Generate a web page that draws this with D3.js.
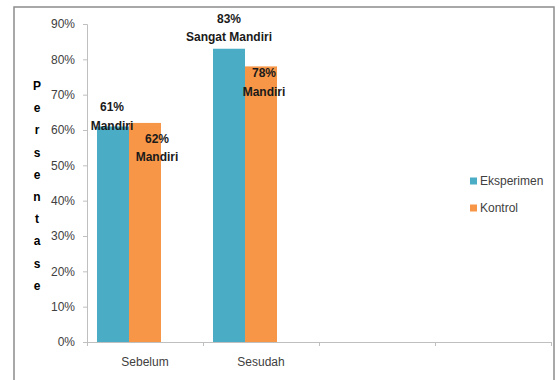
<!DOCTYPE html>
<html>
<head>
<meta charset="utf-8">
<script src="https://cdn.jsdelivr.net/npm/d3@7"></script>
<style>
  html, body { margin: 0; padding: 0; background: #fff; }
  svg { display: block; font-family: "Liberation Sans", Arial, sans-serif; }
</style>
</head>
<body>
<svg id="chart" width="559" height="380"></svg>
<script>
// Chart data
const categories = ["Sebelum", "Sesudah", "", ""];
const seriesNames = ["Eksperimen", "Kontrol"];
const eksperimen = [0.61, 0.83];
const kontrol = [0.62, 0.78];
const labelNames = [["Mandiri", "Mandiri"], ["Sangat Mandiri", "Mandiri"]];
const yTicks = [0, 0.1, 0.2, 0.3, 0.4, 0.5, 0.6, 0.7, 0.8, 0.9];
const axisTitle = "Persentase";

// Layout
const colors = ["#4BACC6", "#F79646"];
const plot = { left: 87, right: 551, top: 24, bottom: 342 };
// label offsets relative to the top-centre of each bar [dx, dy of first line]
const labelOffsets = [[[-1, -19], [12, 16]], [[0, -30], [3, 7]]];

const svg = d3.select("#chart");

// outer frame
svg.append("rect")
  .attr("x", 14).attr("y", 7).attr("width", 540).attr("height", 400)
  .attr("fill", "none").attr("stroke", "#8c8c8c").attr("stroke-width", 1.5);

const y = d3.scaleLinear().domain([0, 0.9]).range([plot.bottom, plot.top]);
const x0 = d3.scaleBand().domain(d3.range(categories.length)).range([plot.left, plot.right]);
const bw = x0.bandwidth();
const x1 = d3.scaleBand().domain([0, 1, 2]).range([bw * 10 / 116, bw * 106 / 116]);
const xEdge = d3.scaleLinear().domain([0, categories.length]).range([plot.left, plot.right]);

// y axis
const yAxis = svg.append("g")
  .attr("transform", `translate(${plot.left},0)`)
  .call(d3.axisLeft(y).tickValues(yTicks).tickFormat(d3.format(".0%")).tickSize(4).tickPadding(8));
yAxis.select(".domain").attr("stroke", "#bfbfbf");
yAxis.selectAll(".tick line").attr("stroke", "#bfbfbf");
yAxis.selectAll(".tick text").attr("fill", "#404040").style("font-size", "12px");

// x axis: boundary ticks and category labels
const xTicksG = svg.append("g")
  .attr("transform", `translate(0,${plot.bottom})`)
  .call(d3.axisBottom(xEdge).ticks(categories.length).tickFormat("").tickSize(4).tickSizeOuter(4));
xTicksG.select(".domain").attr("stroke", "#bfbfbf");
xTicksG.selectAll(".tick line").attr("stroke", "#bfbfbf");

const xLabels = svg.append("g")
  .attr("transform", `translate(0,${plot.bottom})`)
  .call(d3.axisBottom(x0).tickFormat(i => categories[i]).tickSize(0).tickPadding(15));
xLabels.select(".domain").remove();
xLabels.selectAll(".tick text").attr("fill", "#404040").style("font-size", "12px");

// bars
const seriesValues = [eksperimen, kontrol];
const barData = [];
seriesValues.forEach((vals, s) => {
  vals.forEach((v, c) => barData.push({ s, c, v }));
});

svg.append("g").selectAll("rect")
  .data(barData)
  .join("rect")
  .attr("x", d => x0(d.c) + x1(d.s))
  .attr("y", d => y(d.v))
  .attr("width", x1.bandwidth())
  .attr("height", d => y(0) - y(d.v))
  .attr("fill", d => colors[d.s]);

// data labels
const lbl = svg.append("g")
  .attr("text-anchor", "middle")
  .style("font-size", "12px")
  .style("font-weight", "bold")
  .attr("fill", "#1a1a1a");
barData.forEach(d => {
  const off = labelOffsets[d.c][d.s];
  const cx = x0(d.c) + x1(d.s) + x1.bandwidth() / 2 + off[0];
  const cy = y(d.v) + off[1];
  const t = lbl.append("text").attr("x", cx).attr("y", cy).attr("dominant-baseline", "central");
  t.append("tspan").attr("x", cx).attr("dy", 0).text(d3.format(".0%")(d.v));
  t.append("tspan").attr("x", cx).attr("dy", 18.5).text(labelNames[d.c][d.s]);
});

// vertical axis title, one letter per row
svg.append("g")
  .attr("text-anchor", "middle")
  .style("font-size", "12px")
  .style("font-weight", "bold")
  .attr("fill", "#000")
  .selectAll("text")
  .data(axisTitle.split(""))
  .join("text")
  .attr("x", 37)
  .attr("y", (d, i) => 86 + i * 22.2)
  .attr("dominant-baseline", "central")
  .text(d => d);

// legend
const legend = svg.append("g")
  .selectAll("g")
  .data(seriesNames)
  .join("g")
  .attr("transform", (d, i) => `translate(470,${181 + i * 27})`);
legend.append("rect")
  .attr("x", 0).attr("y", -3.5).attr("width", 7).attr("height", 7)
  .attr("fill", (d, i) => colors[i]);
legend.append("text")
  .attr("x", 10).attr("y", 0)
  .attr("dominant-baseline", "central")
  .attr("fill", "#404040")
  .style("font-size", "12px")
  .text(d => d);
</script>
</body>
</html>
